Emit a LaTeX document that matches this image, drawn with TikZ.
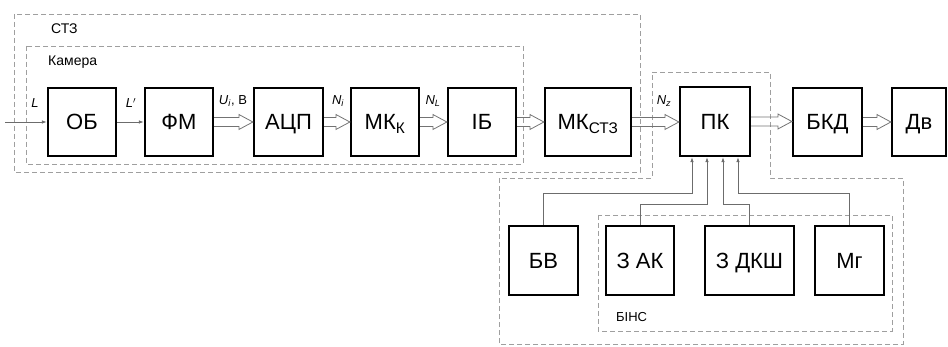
\documentclass[tikz,border=0pt]{standalone}
\usepackage{fontspec}
\setmainfont{Liberation Sans}
\usetikzlibrary{calc,arrows.meta}
\begin{document}
\begin{tikzpicture}[x=1pt,y=-1pt,
 blk/.style={draw=black,line width=2.2pt,minimum width=68pt,minimum height=68pt,inner sep=0pt,text height=15.5pt,text depth=0pt,font=\fontsize{22}{22}\selectfont},
 dsh/.style={draw=gray!75,line width=0.8pt,dash pattern=on 5pt off 3pt},
 conn/.style={draw=gray!85!black,line width=0.9pt},
 thinarr/.style={conn,-{Latex[length=5pt,width=3.5pt]}},
 lbl/.style={font=\fontsize{13}{13}\selectfont\itshape,inner sep=0pt},
 grp/.style={font=\fontsize{14}{14}\selectfont,inner sep=0pt,anchor=west},
 dbl/.style={draw=gray!90!black,line width=0.8pt,
   to path={let \p1=(\tikztostart), \p2=(\tikztotarget) in
     (\x1,\y1+4.5pt) -- (\x2-14pt,\y1+4.5pt) -- (\x2-14pt,\y1+7.5pt) -- (\x2,\y1)
     -- (\x2-14pt,\y1-7.5pt) -- (\x2-14pt,\y1-4.5pt) -- (\x1,\y1-4.5pt)}},
]
\useasboundingbox (0,0) rectangle (948,347);

% dashed groups
\draw[dsh] (14,14) rectangle (640,172);
\draw[dsh] (26,46) rectangle (523,164);
\draw[dsh] (652,72) -- (770,72) -- (770,178) -- (903,178) -- (903,344) -- (499,344) -- (499,178) -- (652,178) -- cycle;
\draw[dsh] (598,215) rectangle (892,331);

\node[grp] (lstz) at (51,29) {СТЗ};
\node[grp] (lcam) at (48,62) {Камера};
\node[grp,font=\fontsize{13}{13}\selectfont] (lbins) at (616,317) {БІНС};

% top row
\node[blk] (ob)   at (82,122)  {ОБ};
\node[blk] (fm)   at (179,122) {ФМ};
\node[blk,minimum width=69pt] (adc)  at (288.5,122) {АЦП};
\node[blk] (mkk)  at (385,122) {МК\textsubscript{К}};
\node[blk] (ib)   at (482,122) {ІБ};
\node[blk,minimum width=86pt] (mks)  at (588,122) {МК\textsubscript{СТЗ}};
\node[blk,minimum width=70pt,minimum height=69pt] (pk) at (715,121.5) {ПК};
\node[blk,minimum width=69pt] (bkd)  at (827.5,122) {БКД};
\node[blk,minimum width=54pt] (dv)   at (919,122) {Дв};

% bottom row
\node[blk,minimum width=69pt,minimum height=69pt] (bv)  at (543.5,260.5) {БВ};
\node[blk,minimum height=69pt] (zak) at (640,260.5) {З АК};
\node[blk,minimum width=89pt,minimum height=69pt] (zdk) at (749.5,260.5) {З ДКШ};
\node[blk,minimum width=69pt,minimum height=69pt] (mg)  at (849.5,260.5) {Мг};

% input and thin arrows
\coordinate (in) at (5,122);
\draw[thinarr] (in) -- (ob.west);
\draw[thinarr] (ob.east) -- (fm.west);

% hollow double arrows
\draw[dbl] (fm.east) to (adc.west);
\draw[dbl] (adc.east) to (mkk.west);
\draw[dbl] (mkk.east) to (ib.west);
\draw[dbl] (ib.east) to (mks.west);
\draw[dbl] (mks.east) to (pk.west);
\draw[dbl] (pk.east) to (bkd.west);
\draw[dbl] (bkd.east) to (dv.west);

% signal labels
\node[lbl] (tL)  at (35,103)  {L};
\node[lbl] (tL2) at (131,103) {L$'$};
\node[lbl,font=\fontsize{13}{13}\selectfont] (tU) at (233,101) {\textit{U}\textsubscript{\textit{i}}, В};
\node[lbl] (tNi) at (338,101) {N\textsubscript{i}};
\node[lbl] (tNL) at (433,101) {N\textsubscript{L}};
\node[lbl] (tNz) at (664,101) {N\textsubscript{z}};

% connections into PK
\coordinate (b1) at (0,193);
\coordinate (b2) at (0,204);
\coordinate (p1) at ([xshift=-23pt]pk.south);
\coordinate (p2) at ([xshift=-8pt]pk.south);
\coordinate (p3) at ([xshift=8pt]pk.south);
\coordinate (p4) at ([xshift=23pt]pk.south);
\draw[thinarr] (bv.north)  |- (p1 |- b1) -- (p1);
\draw[thinarr] (zak.north) |- (p2 |- b2) -- (p2);
\draw[thinarr] (zdk.north) |- (p3 |- b2) -- (p3);
\draw[thinarr] (mg.north)  |- (p4 |- b1) -- (p4);
\end{tikzpicture}
\end{document}
